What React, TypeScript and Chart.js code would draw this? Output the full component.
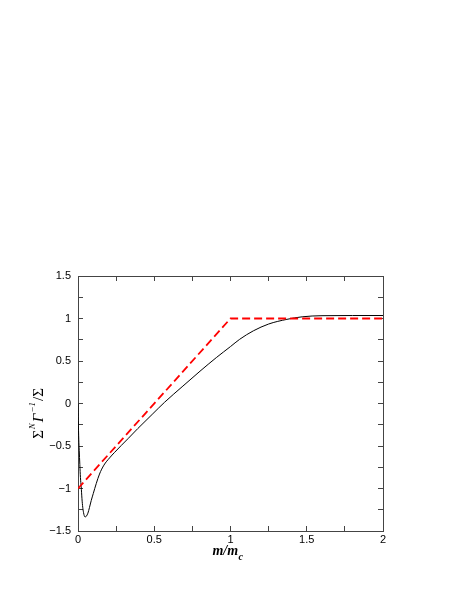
import React, { useEffect, useRef } from 'react';
import { Chart, registerables } from 'chart.js';

Chart.register(...registerables);

// Solid black curve (exact result)
const exactX = [0, 0.002, 0.005, 0.008, 0.012, 0.016, 0.021, 0.026, 0.031, 0.036, 0.041, 0.047, 0.055, 0.065, 0.075, 0.087, 0.1, 0.12, 0.141, 0.17, 0.207, 0.24, 0.283, 0.33, 0.392, 0.491, 0.568, 0.688, 0.8, 0.907, 1.0, 1.06, 1.15, 1.25, 1.37, 1.47, 1.6, 1.8, 2.0];
const exactY = [0, -0.2, -0.42, -0.55, -0.72, -0.87, -0.98, -1.12, -1.22, -1.28, -1.32, -1.335, -1.325, -1.29, -1.225, -1.14, -1.06, -0.94, -0.83, -0.725, -0.64, -0.575, -0.495, -0.41, -0.295, -0.12, 0.015, 0.205, 0.38, 0.54, 0.67, 0.755, 0.855, 0.935, 0.99, 1.02, 1.033, 1.035, 1.035];

// Dashed red approximation
const approxX = [0, 1, 2];
const approxY = [-1, 1, 1];

const xMin = 0, xMax = 2, xStep = 0.25, xLabelStep = 0.5;
const yMin = -1.5, yMax = 1.5, yStep = 0.25, yLabelStep = 0.5;

const frameColor = '#444';

function fmt(v: number, labelStep: number): string {
  const r = Math.round(v / labelStep);
  if (Math.abs(v - r * labelStep) > 1e-6) return '';
  const val = Math.round(v * 100) / 100;
  return String(val).replace('-', '\u2212');
}

const axisTitles = {
  id: 'axisTitles',
  afterDraw(chart: any) {
    const ctx = chart.ctx as CanvasRenderingContext2D;
    const area = chart.chartArea;
    ctx.save();
    ctx.fillStyle = '#000';
    ctx.textBaseline = 'alphabetic';
    // x title: m/m_c
    const mainFont = 'italic bold 14px "Liberation Serif", "Times New Roman", serif';
    const subFont = 'italic bold 10px "Liberation Serif", "Times New Roman", serif';
    ctx.font = mainFont;
    const w1 = ctx.measureText('m/m').width;
    ctx.font = subFont;
    const w2 = ctx.measureText('c').width;
    const cx = (area.left + area.right) / 2 - 3;
    const x0 = cx - (w1 + w2) / 2;
    const base = 555;
    ctx.font = mainFont;
    ctx.textAlign = 'left';
    ctx.fillText('m/m', x0, base);
    ctx.font = subFont;
    ctx.fillText('c', x0 + w1 + 0.5, base + 5);

    // y title: Σ^N Γ^{-1}/Σ rotated
    const segs = [
      { t: '\u03A3', font: '15px "Liberation Serif", "Times New Roman", serif', dy: 0 },
      { t: 'N', font: 'italic 9px "Liberation Serif", "Times New Roman", serif', dy: -8 },
      { t: '\u0393', font: 'italic 15px "Liberation Serif", "Times New Roman", serif', dy: 0 },
      { t: '\u22121', font: 'italic 9px "Liberation Serif", "Times New Roman", serif', dy: -8 },
      { t: '/\u03A3', font: '15px "Liberation Serif", "Times New Roman", serif', dy: 0 },
    ];
    let total = 0;
    const widths: number[] = [];
    for (const s of segs) {
      ctx.font = s.font;
      const w = ctx.measureText(s.t).width + 1;
      widths.push(w);
      total += w;
    }
    ctx.translate(42.5, 413);
    ctx.rotate(-Math.PI / 2);
    let px = -total / 2;
    segs.forEach((s, i) => {
      ctx.font = s.font;
      ctx.fillText(s.t, px, s.dy);
      px += widths[i];
    });
    ctx.restore();
  },
};

function makeScale(axis: 'x' | 'y', position: string, showLabels: boolean, size: number) {
  const isX = axis === 'x';
  return {
    type: 'linear',
    axis,
    position,
    min: isX ? xMin : yMin,
    max: isX ? xMax : yMax,
    afterBuildTicks: (scale: any) => {
      const step = isX ? xStep : yStep;
      const lo = isX ? xMin : yMin;
      const hi = isX ? xMax : yMax;
      const ticks: any[] = [];
      const n = Math.round((hi - lo) / step);
      for (let i = 0; i <= n; i++) ticks.push({ value: Math.round((lo + i * step) * 1000) / 1000 });
      scale.ticks = ticks;
    },
    afterFit: (scale: any) => {
      if (isX) scale.height = size;
      else scale.width = size;
    },
    border: { display: true, color: frameColor, width: 1 },
    grid: {
      drawOnChartArea: false,
      drawTicks: true,
      tickLength: -5,
      tickColor: frameColor,
      tickWidth: 1,
      color: frameColor,
    },
    ticks: {
      display: showLabels,
      autoSkip: false,
      maxRotation: 0,
      minRotation: 0,
      padding: isX ? 7 : 12,
      color: '#000',
      font: { family: '"Liberation Sans", Arial, Helvetica, sans-serif', size: 11 },
      callback: (v: any) => fmt(Number(v), isX ? xLabelStep : yLabelStep),
    },
  };
}

export default function App() {
  const ref = useRef<HTMLCanvasElement | null>(null);
  useEffect(() => {
    if (!ref.current) return;
    const chart = new Chart(ref.current, {
      type: 'line',
      data: {
        datasets: [
          {
            label: 'approx',
            data: approxX.map((x, i) => ({ x, y: approxY[i] })),
            borderColor: '#ff0000',
            borderWidth: 1.8,
            borderDash: [8, 4],
            pointRadius: 0,
            fill: false,
            tension: 0,
          },
          {
            label: 'exact',
            data: exactX.map((x, i) => ({ x, y: exactY[i] })),
            borderColor: '#000000',
            borderWidth: 1,
            pointRadius: 0,
            fill: false,
            cubicInterpolationMode: 'monotone',
          },
        ],
      },
      options: {
        responsive: false,
        animation: false,
        devicePixelRatio: 1,
        layout: { padding: { left: 0, top: 276, right: 80, bottom: 0 } },
        plugins: {
          legend: { display: false },
          tooltip: { enabled: false },
          title: { display: false },
        },
        scales: {
          x: makeScale('x', 'bottom', true, 68) as any,
          y: makeScale('y', 'left', true, 78) as any,
          x2: makeScale('x', 'top', false, 0) as any,
          y2: makeScale('y', 'right', false, 0) as any,
        },
      },
      plugins: [axisTitles],
    });
    return () => chart.destroy();
  }, []);
  return (
    <div style={{ position: 'fixed', left: 0, top: 0, width: 463, height: 599, background: '#fff' }}>
      <canvas ref={ref} width={463} height={599} style={{ width: 463, height: 599, display: 'block' }} />
    </div>
  );
}
